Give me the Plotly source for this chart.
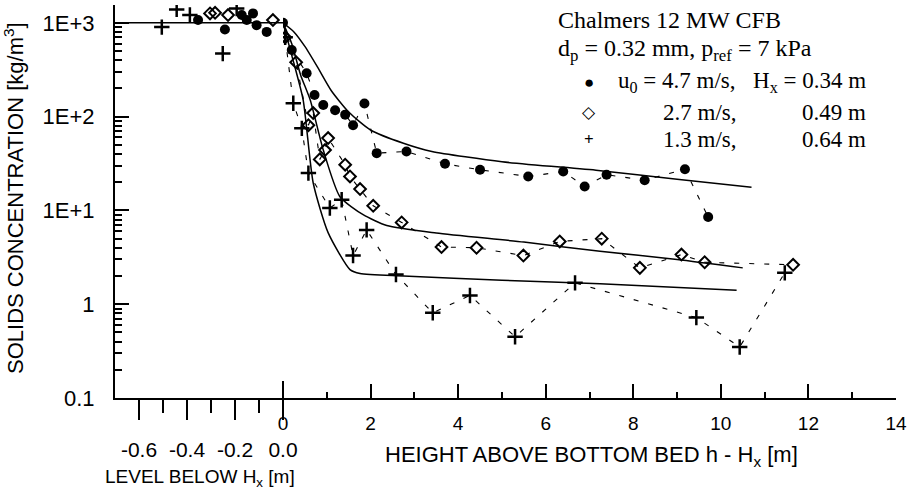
import plotly.graph_objects as go

# ---------------- data ----------------
# level below Hx (left panel), metres (negative = below Hx)
left_u47_x = [-0.354, -0.242, -0.172, -0.151, -0.125, -0.110, -0.068]
left_u47_y = [1070, 850, 1210, 1070, 1260, 945, 800]
left_u27_x = [-0.304, -0.283, -0.229, -0.042]
left_u27_y = [1260, 1280, 1210, 1070]
left_u13_x = [-0.505, -0.443, -0.388, -0.251, -0.193]
left_u13_y = [900, 1390, 1210, 470, 1420]
left_model_x = [-0.7, 0.0]
left_model_y = [1000, 1000]

# height above bottom bed h - Hx (right panel), metres
u47_x = [0.0, 0.2, 0.54, 0.72, 0.92, 1.19, 1.42, 1.6, 1.86, 2.14, 2.82, 3.70, 4.50, 5.60, 6.40, 6.89, 7.39, 8.26, 9.18, 9.71]
u47_y = [1000, 513, 290, 170, 133, 117, 105, 81, 138, 40.8, 42.5, 31.4, 27.1, 23, 26, 18, 24, 21, 27.5, 8.5]
u27_x = [0.05, 0.3, 0.58, 0.69, 0.84, 0.96, 1.03, 1.42, 1.53, 1.76, 2.06, 2.71, 3.62, 4.42, 5.49, 6.32, 7.28, 8.15, 9.10, 9.63, 11.65]
u27_y = [700, 380, 81, 109, 35, 44, 59, 30.7, 23, 16.9, 11.2, 7.45, 4.07, 4.0, 3.3, 4.67, 5.0, 2.44, 3.38, 2.8, 2.63]
u13_x = [0.05, 0.235, 0.43, 0.58, 1.07, 1.34, 1.6, 1.91, 2.58, 3.42, 4.27, 5.3, 6.67, 9.44, 10.43, 11.46]
u13_y = [700, 139, 75, 25, 10.6, 13, 3.3, 6.2, 2.07, 0.81, 1.24, 0.45, 1.69, 0.72, 0.35, 2.16]

# model curves (solid lines)
m47_x = [0, 0.25, 0.5, 0.8, 1.1, 1.5, 2.0, 2.75, 3.4, 5.0, 7.2, 9.0, 10.7]
m47_y = [1000, 800, 560, 330, 190, 112, 72, 52, 42.5, 33, 26.7, 21.5, 17.7]
m27_x = [0, 0.2, 0.4, 0.62, 0.92, 1.3, 1.83, 2.37, 3.5, 5.5, 7.24, 9.0, 10.5]
m27_y = [1000, 600, 280, 151, 44, 14, 9, 6.9, 5.75, 4.6, 3.66, 3.0, 2.44]
m13_x = [0, 0.2, 0.46, 0.69, 1.03, 1.53, 1.76, 2.75, 5.0, 7.24, 10.36]
m13_y = [1000, 450, 151, 19.6, 5.8, 2.34, 2.12, 2.0, 1.8, 1.65, 1.41]

y_tickvals = [0.1, 1, 10, 100, 1000]
y_ticktext = ["0.1", "1", "1E+1", "1E+2", "1E+3"]
left_tickvals = [-0.6, -0.4, -0.2, 0.0]
left_ticktext = ["-0.6", "-0.4", "-0.2", "0.0"]

# ---------------- figure ----------------
W, H = 913, 490
ML, MR, MT, MB = 115, 17, 5, 92
PW, PH = W - ML - MR, H - MT - MB
split = (283 - ML) / PW

def px(x):
    return (x - ML) / PW

def py(y):
    return (H - MB - y) / PH

fig = go.Figure()

dash = "5px,10px"
mk47 = dict(symbol="circle", size=10, color="black")
mk27 = dict(symbol="diamond-open", size=9, color="black", line=dict(width=2, color="black"))
mk13 = dict(symbol="cross-thin-open", size=11, color="black", line=dict(width=2.5, color="black"))

# left panel
fig.add_trace(go.Scatter(x=left_model_x, y=left_model_y, mode="lines",
                         line=dict(color="black", width=1.5), xaxis="x", yaxis="y"))
for xs, ys, mk in [(left_u47_x, left_u47_y, mk47), (left_u27_x, left_u27_y, mk27), (left_u13_x, left_u13_y, mk13)]:
    fig.add_trace(go.Scatter(x=xs, y=ys, mode="markers", marker=mk, xaxis="x", yaxis="y"))

# right panel: model curves
for xs, ys in [(m47_x, m47_y), (m27_x, m27_y), (m13_x, m13_y)]:
    fig.add_trace(go.Scatter(x=xs, y=ys, mode="lines",
                             line=dict(color="black", width=1.5, shape="spline", smoothing=0.6),
                             xaxis="x2", yaxis="y"))
# right panel: measurements with dashed connecting lines
for xs, ys, mk in [(u47_x, u47_y, mk47), (u27_x, u27_y, mk27), (u13_x, u13_y, mk13)]:
    fig.add_trace(go.Scatter(x=xs, y=ys, mode="lines+markers", marker=mk,
                             line=dict(color="black", width=1.1, dash=dash), xaxis="x2", yaxis="y"))

axis_common = dict(showline=True, linecolor="black", linewidth=2, showgrid=False, zeroline=False,
                   tickcolor="black", tickwidth=2, automargin=False)

fig.update_layout(
    width=W, height=H, margin=dict(l=ML, r=MR, t=MT, b=MB),
    paper_bgcolor="white", plot_bgcolor="white", showlegend=False,
    font=dict(family="Liberation Sans, Arial, sans-serif", color="black"),
    xaxis=dict(domain=[0, split], range=[-0.7, 0], anchor="y", ticks="outside", ticklen=20,
               tickvals=left_tickvals, ticktext=left_ticktext, tickfont=dict(size=21),
               ticklabelstandoff=12,
               minor=dict(tickvals=[-0.5, -0.3, -0.1], ticks="outside", ticklen=13, tickwidth=2, tickcolor="black"),
               **axis_common),
    xaxis2=dict(domain=[split, 1], range=[0, 14], anchor="y", ticks="inside", ticklen=14, dtick=2, tick0=0,
                tickfont=dict(size=19), ticklabelstandoff=7,
                minor=dict(dtick=1, ticks="inside", ticklen=6, tickwidth=2, tickcolor="black"),
                **axis_common),
    yaxis=dict(type="log", range=[-1, 3.19], anchor="x", ticks="inside", ticklen=14,
               tickvals=y_tickvals, ticktext=y_ticktext, tickfont=dict(size=22), ticklabelstandoff=14,
               minor=dict(ticks="inside", ticklen=7, tickwidth=1.5, tickcolor="black",
                          tickvals=[m * 10 ** e for e in range(-1, 3) for m in range(2, 10)]),
               **axis_common),
)

serif = "Liberation Serif, Times New Roman, serif"
ann = []
def add(text, x, y, size, xanchor="center", family=None, angle=0):
    f = dict(size=size)
    if family:
        f["family"] = family
    ann.append(dict(text=text, x=px(x), y=py(y), xref="paper", yref="paper", textangle=angle,
                    font=f, showarrow=False, xanchor=xanchor, yanchor="middle"))

add("SOLIDS CONCENTRATION [kg/m<sup>3</sup>]", 14, 198, 22, angle=-90)
add("HEIGHT ABOVE BOTTOM BED h - H<sub>x</sub> [m]", 591, 456, 22)
add("LEVEL BELOW H<sub>x</sub> [m]", 200, 478, 19)
# legend block
add("Chalmers 12 MW CFB", 556, 20, 24, xanchor="left", family=serif)
add("d<sub>p</sub> = 0.32 mm, p<sub>ref</sub> = 7 kPa", 556, 50, 24, xanchor="left", family=serif)
rows = [("●", "u<sub>0</sub> = 4.7 m/s,", "H<sub>x</sub> = 0.34 m", 82),
        ("◇", "2.7 m/s,", "0.49 m", 112),
        ("<b>+</b>", "1.3 m/s,", "0.64 m", 139)]
for sym, a, b, yy in rows:
    add(sym, 589, yy, 17, family=serif)
    add(a, 738, yy, 23, xanchor="right", family=serif)
    add(b, 868, yy, 23, xanchor="right", family=serif)
fig.update_layout(annotations=ann)

# the long zero tick crossing the axis
fig.add_shape(type="line", xref="paper", yref="paper", x0=split, x1=split, y0=py(381), y1=py(412),
              line=dict(color="black", width=2))

fig.write_html("out.html", config={"displayModeBar": False},
               post_script="document.body.style.margin='0px';document.body.style.overflow='hidden';")
